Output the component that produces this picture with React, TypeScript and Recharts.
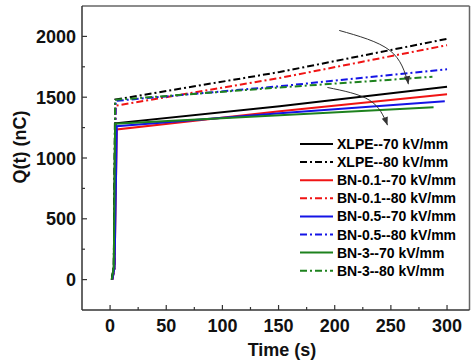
import React from 'react';
import { LineChart, Line, XAxis, YAxis, Legend, ReferenceLine, Customized } from 'recharts';

// ---- data (time in s, Q(t) in nC) ----
const XLPE_70: number[][] = [[1.5, 0], [3.3, 100], [4.5, 1285], [151, 1426], [300, 1585]];
const XLPE_80: number[][] = [[1.5, 0], [3.3, 100], [4.5, 1480], [151, 1707], [300, 1980]];
const BN01_70: number[][] = [[2, 0], [4, 100], [6, 1235], [151, 1385], [300, 1525]];
const BN01_80: number[][] = [[2, 0], [4, 100], [5, 1430], [151, 1658], [300, 1928]];
const BN05_70: number[][] = [[2, 0], [4, 100], [6, 1262], [151, 1369], [298, 1467]];
const BN05_80: number[][] = [[2, 0], [4, 100], [5, 1470], [151, 1590], [300, 1730]];
const BN3_70: number[][] = [[1.5, 0], [3.3, 100], [4.5, 1282], [151, 1352], [288, 1418]];
const BN3_80: number[][] = [[1.5, 0], [3.3, 100], [4.5, 1478], [151, 1580], [287, 1668]];

const ARROW_1: number[][] = [[204, 2049], [249, 1885], [265.6, 1607]];
const ARROW_2: number[][] = [[193.5, 1580], [231, 1475], [247, 1270]];

const SERIES_NAMES = [
  'XLPE--70 kV/mm', 'XLPE--80 kV/mm',
  'BN-0.1--70 kV/mm', 'BN-0.1--80 kV/mm',
  'BN-0.5--70 kV/mm', 'BN-0.5--80 kV/mm',
  'BN-3--70 kV/mm', 'BN-3--80 kV/mm',
];
const SERIES_DATA = [XLPE_70, XLPE_80, BN01_70, BN01_80, BN05_70, BN05_80, BN3_70, BN3_80];

const X_TICKS = [0, 25, 50, 75, 100, 125, 150, 175, 200, 225, 250, 275, 300];
const Y_TICKS = [0, 250, 500, 750, 1000, 1250, 1500, 1750, 2000];
const X_DOMAIN = [-25, 320];
const Y_DOMAIN = [-250, 2250];

// ---- styles ----
const COLORS = ['#000000', '#000000', '#f01414', '#f01414', '#1414e6', '#1414e6', '#1e821e', '#1e821e'];
const DASHES = [undefined, '7 3 2 3', undefined, '7 3 2 3', undefined, '7 3 2 3', undefined, '7 3 2 3'];
const DRAW_ORDER = [1, 3, 5, 7, 0, 2, 4, 6];

const W = 472;
const H = 364;
const PLOT_LEFT = 82;
const PLOT_TOP = 6;
const PLOT_RIGHT = 469.5;
const PLOT_BOTTOM = 310;
const FONT = '"Liberation Sans", Arial, sans-serif';
const AXIS_COLOR = '#333';

const toRows = (pts: number[][]) => pts.map(([t, q]) => ({ t, q }));

const XTick = (props: any) => {
  const { x, y, payload } = props;
  const v = payload.value;
  const major = v % 50 === 0;
  return (
    <g>
      <line x1={x} x2={x} y1={y} y2={y - (major ? 5 : 3)} stroke={AXIS_COLOR} strokeWidth={1.2} />
      {major && (
        <text x={x} y={y + 21.5} textAnchor="middle" fontFamily={FONT} fontWeight="bold" fontSize={18} fill="#111">
          {v}
        </text>
      )}
    </g>
  );
};

const YTick = (props: any) => {
  const { x, y, payload } = props;
  const v = payload.value;
  const major = v % 500 === 0;
  return (
    <g>
      <line x1={x} x2={x + (major ? 5 : 3)} y1={y} y2={y} stroke={AXIS_COLOR} strokeWidth={1.2} />
      {major && (
        <text x={x - 6} y={y + 6.5} textAnchor="end" fontFamily={FONT} fontWeight="bold" fontSize={18} fill="#111">
          {v}
        </text>
      )}
    </g>
  );
};

const makeArrowDot = (lastIndex: number, angleDeg: number) => (props: any) => {
  const { cx, cy, index } = props;
  if (index !== lastIndex || cx == null) return <g key={`d${index}`} />;
  const a = (angleDeg * Math.PI) / 180;
  const len = 8;
  const hw = 3.2;
  const bx = cx - Math.cos(a) * len;
  const by = cy - Math.sin(a) * len;
  const px = -Math.sin(a) * hw;
  const py = Math.cos(a) * hw;
  return (
    <path
      key={`d${index}`}
      d={`M${cx},${cy} L${bx + px},${by + py} L${bx - px},${by - py} Z`}
      fill="#333"
      stroke="none"
    />
  );
};

const LegendContent = () => (
  <svg width={175} height={150} style={{ display: 'block' }}>
    {SERIES_NAMES.map((name, i) => {
      const cy = 9 + 18.1 * i;
      return (
        <g key={name}>
          <line x1={2} x2={35} y1={cy} y2={cy} stroke={COLORS[i]} strokeWidth={2} strokeDasharray={DASHES[i]} />
          <text x={39} y={cy + 5} fontFamily={FONT} fontWeight="bold" fontSize={14} fill="#000">
            {name}
          </text>
        </g>
      );
    })}
  </svg>
);

const AxisTitles = () => (
  <g>
    <text x={282} y={356} textAnchor="middle" fontFamily={FONT} fontWeight="bold" fontSize={18} fill="#111">
      Time (s)
    </text>
    <text
      x={25.5}
      y={147}
      transform="rotate(-90 25.5 147)"
      textAnchor="middle"
      fontFamily={FONT}
      fontWeight="bold"
      fontSize={18}
      fill="#111"
    >
      Q(t) (nC)
    </text>
  </g>
);

export default function App() {
  return (
    <div style={{ position: 'absolute', left: 0, top: 0, width: W, height: H, background: '#fff' }}>
      <LineChart
        width={W}
        height={H}
        margin={{ top: PLOT_TOP, right: W - PLOT_RIGHT, bottom: 0, left: 0 }}
      >
        <XAxis
          type="number"
          dataKey="t"
          domain={X_DOMAIN}
          ticks={X_TICKS}
          interval={0}
          allowDataOverflow
          height={H - PLOT_BOTTOM}
          tickSize={0}
          tickMargin={0}
          tickLine={false}
          tick={<XTick />}
          axisLine={{ stroke: AXIS_COLOR, strokeWidth: 1.5 }}
        />
        <YAxis
          type="number"
          dataKey="q"
          domain={Y_DOMAIN}
          ticks={Y_TICKS}
          interval={0}
          allowDataOverflow
          width={PLOT_LEFT}
          tickSize={0}
          tickMargin={0}
          tickLine={false}
          tick={<YTick />}
          axisLine={{ stroke: AXIS_COLOR, strokeWidth: 1.5 }}
        />
        <ReferenceLine y={Y_DOMAIN[1]} stroke="#666" strokeWidth={1.5} />
        <ReferenceLine x={X_DOMAIN[1]} stroke="#666" strokeWidth={1.5} />
        {DRAW_ORDER.map((i) => (
          <Line
            key={SERIES_NAMES[i]}
            name={SERIES_NAMES[i]}
            data={toRows(SERIES_DATA[i])}
            dataKey="q"
            type="linear"
            stroke={COLORS[i]}
            strokeWidth={2}
            strokeDasharray={DASHES[i]}
            dot={false}
            activeDot={false}
            isAnimationActive={false}
            legendType="none"
          />
        ))}
        <Line
          data={toRows(ARROW_1)}
          dataKey="q"
          type="natural"
          stroke="#333"
          strokeWidth={1}
          dot={makeArrowDot(ARROW_1.length - 1, 80)}
          activeDot={false}
          isAnimationActive={false}
          legendType="none"
        />
        <Line
          data={toRows(ARROW_2)}
          dataKey="q"
          type="natural"
          stroke="#333"
          strokeWidth={1}
          dot={makeArrowDot(ARROW_2.length - 1, 70)}
          activeDot={false}
          isAnimationActive={false}
          legendType="none"
        />
        <Legend
          layout="horizontal"
          verticalAlign="middle"
          align="center"
          content={<LegendContent />}
          wrapperStyle={{ position: 'absolute', left: 298, top: 135, width: 175, height: 150 }}
        />
        <Customized component={<AxisTitles />} />
      </LineChart>
    </div>
  );
}
